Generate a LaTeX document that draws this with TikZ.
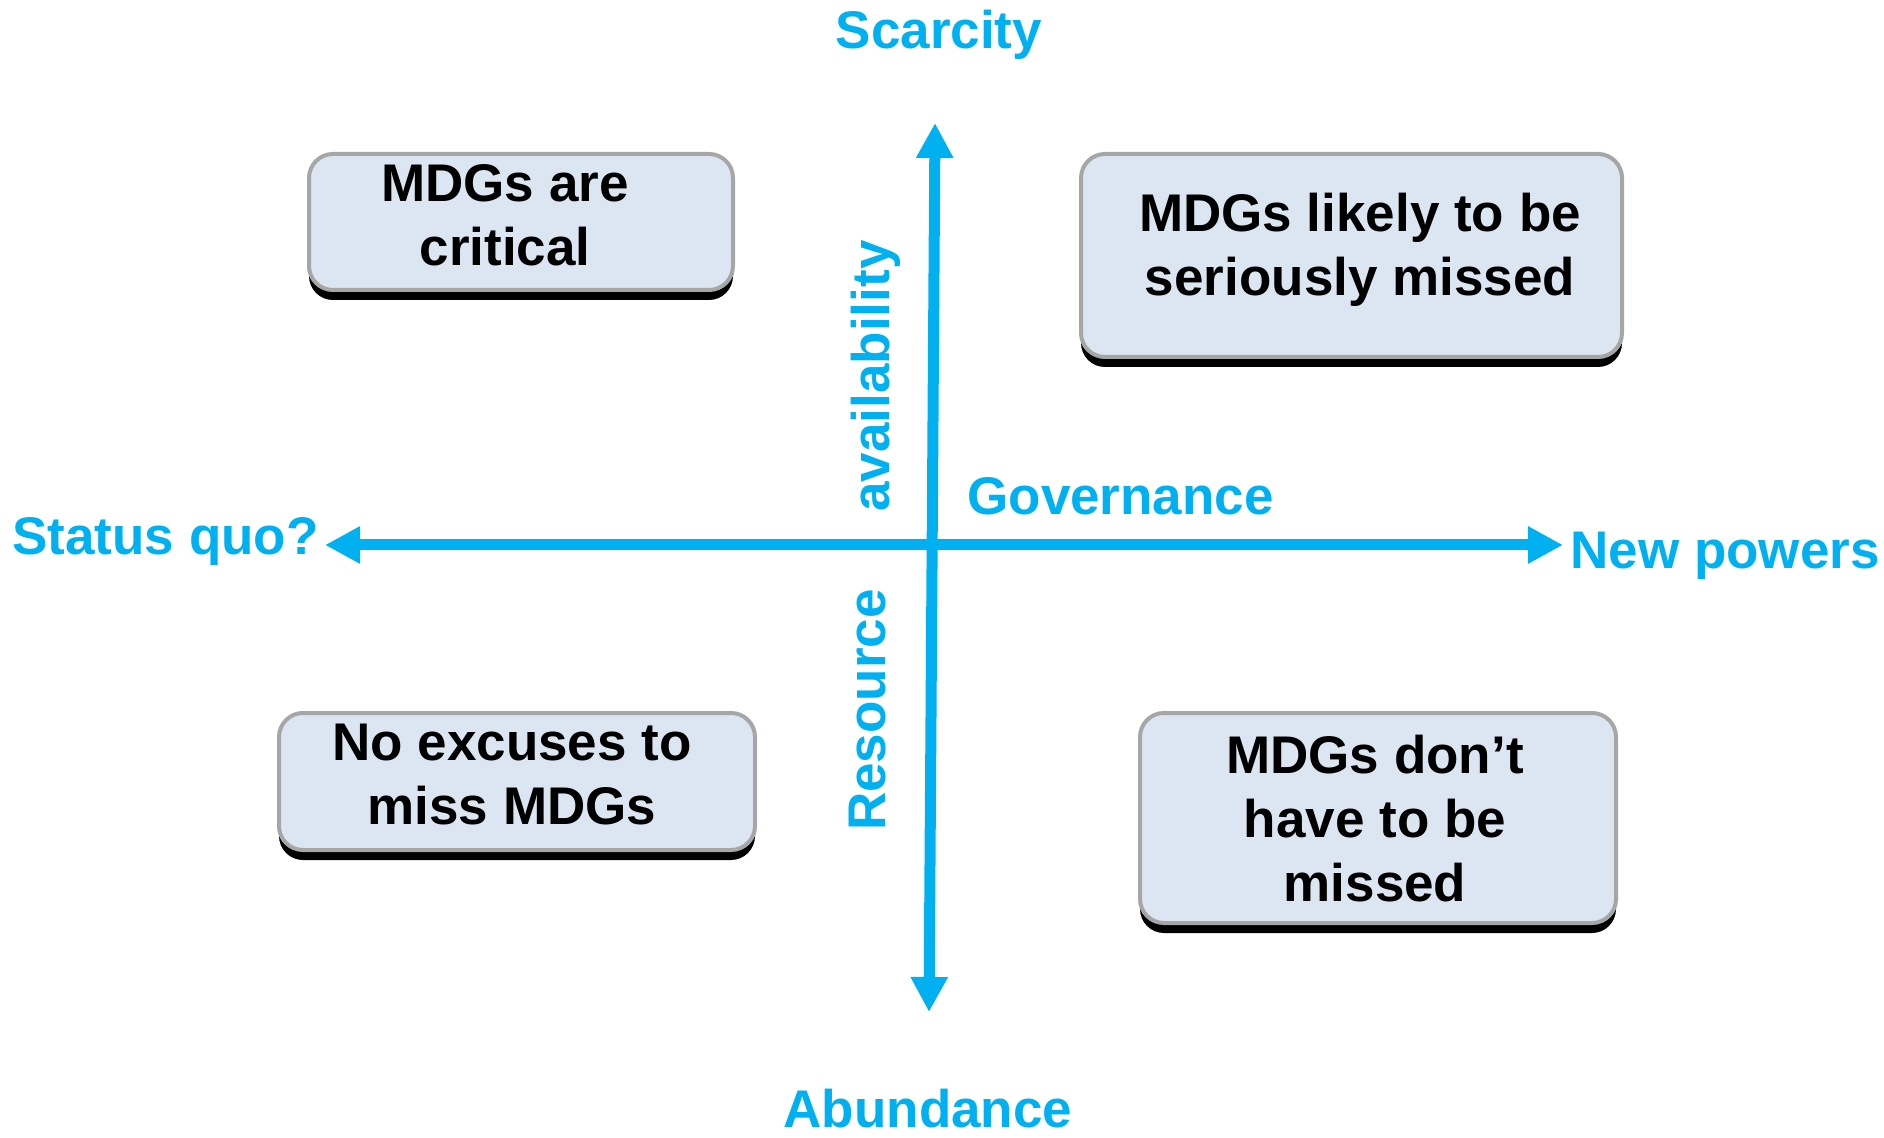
\documentclass[tikz,border=0pt]{standalone}
\usepackage{fontspec}
\setmainfont{Liberation Sans}
\usetikzlibrary{arrows.meta,shadows}
\definecolor{axiscyan}{HTML}{00B0F0}
\definecolor{boxfill}{HTML}{DCE6F2}
\definecolor{boxline}{HTML}{A6A6A6}
\tikzset{
    axislabel/.style={text=axiscyan, font=\bfseries\fontsize{26.5}{32}\selectfont, inner sep=0pt},
    quadbox/.style={draw=boxline, line width=2pt, fill=boxfill, rounded corners=12pt,
        drop shadow={shadow xshift=0pt, shadow yshift=-5pt, fill=black, opacity=1}},% 黑色阴影
    quadtext/.style={font=\bfseries\fontsize{26.5}{32}\selectfont, align=center, inner sep=0pt},
}

\begin{document}
\begin{tikzpicture}[x=0.5pt, y=-0.5pt,
        axisarrow/.style={axiscyan, line width=5.5pt,
            {Triangle[length=17.5pt, width=17.5pt]}-{Triangle[length=17.5pt, width=17.5pt]}},
    ]
    \useasboundingbox (0,0) rectangle (1884,1138);
    % axes
    \coordinate (north) at (935,123);
    \coordinate (south) at (929,1012);
    \coordinate (west) at (325,545);
    \coordinate (east) at (1563,545);
    \draw[axisarrow] (south) -- (north);
    \draw[axisarrow] (west) -- (east);
    % axis labels
    \node[axislabel, anchor=base] (scarcity) at (939,49) {Scarcity};
    \node[axislabel, anchor=base] (abundance) at (928,1127) {Abundance};
    \node[axislabel, anchor=base west] (statusquo) at (12,554) {Status quo?};
    \node[axislabel, anchor=base west] (newpowers) at (1570,568) {New powers};
    \node[axislabel, anchor=base west] (governance) at (967,515) {Governance};
    \node[axislabel, rotate=90] (availability) at (876,376) {availability};
    \node[axislabel, rotate=90] (resource) at (867.5,710) {Resource};
    % quadrant boxes
    \node[quadbox, minimum width=212pt, minimum height=68pt] (critical) at (521,222) {};
    \node[quadtext] (criticaltext) at (505,215) {MDGs are\\critical};
    \node[quadbox, minimum width=270.5pt, minimum height=101.5pt] (missed) at (1351.5,255.5) {};
    \node[quadtext] (missedtext) at (1360,250) {MDGs likely to be\\seriously missed};
    \node[quadbox, minimum width=238pt, minimum height=68.5pt] (noexcuse) at (517,781.5) {};
    \node[quadtext] (noexcusetext) at (512,775) {No excuses to\\miss MDGs};
    \node[quadbox, minimum width=238pt, minimum height=105pt] (donthave) at (1378,818) {};
    \node[quadtext] (donthavetext) at (1375,818.5) {MDGs don’t\\have to be\\missed};
\end{tikzpicture}
\end{document}
